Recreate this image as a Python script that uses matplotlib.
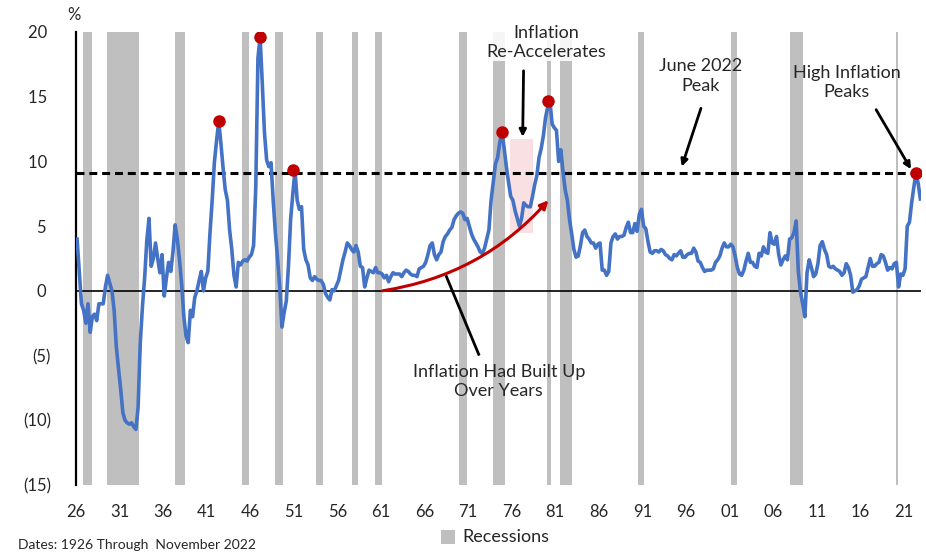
import numpy as np
import matplotlib
matplotlib.use("Agg")
import matplotlib.pyplot as plt
from matplotlib.patches import Rectangle

plt.rcParams['font.family'] = ['Lato', 'DejaVu Sans']

# ---------------- data ----------------
start_year = 1926
# CPI year-over-year %, quarterly (Q1..Q4), 1926-2022
cpi_yoy = [
    4.0, 1.5, -1.0, -1.5,     # 1926
    -2.5, -1.0, -3.2, -2.0,   # 1927
    -1.8, -2.3, -1.0, -1.0,   # 1928
    -1.0, 0.3, 1.2, 0.6,      # 1929
    0.0, -1.5, -4.3, -6.0,    # 1930
    -7.6, -9.4, -10.0, -10.2, # 1931
    -10.3, -10.2, -10.5, -10.7,  # 1932
    -9.0, -4.0, -1.2, 1.0,    # 1933
    3.9, 5.6, 1.9, 2.5,       # 1934
    3.7, 2.5, 1.4, 2.8,       # 1935
    -0.4, 1.0, 2.2, 1.5,      # 1936
    3.0, 5.1, 4.0, 2.4,       # 1937
    0.5, -2.0, -3.5, -4.0,    # 1938
    -1.5, -2.0, -0.5, 0.0,    # 1939
    0.8, 1.5, 0.0, 1.0,       # 1940
    1.5, 4.5, 7.0, 9.9,       # 1941
    11.6, 13.1, 11.4, 9.5,    # 1942
    7.8, 7.0, 4.7, 3.2,       # 1943
    1.2, 0.3, 2.2, 2.0,       # 1944
    2.3, 2.4, 2.3, 2.6,       # 1945
    2.8, 3.5, 8.0, 18.0,      # 1946
    19.6, 16.0, 12.2, 10.1,   # 1947
    9.6, 9.9, 7.0, 4.5,       # 1948
    2.5, 0.3, -2.8, -1.7,     # 1949
    -0.8, 1.9, 5.5, 7.5,      # 1950
    9.3, 7.0, 6.3, 6.5,       # 1951
    3.2, 2.4, 2.0, 1.0,       # 1952
    0.8, 1.1, 0.9, 0.8,       # 1953
    0.8, 0.5, -0.2, -0.5,     # 1954
    -0.7, 0.1, 0.0, 0.4,      # 1955
    0.8, 1.6, 2.4, 3.0,       # 1956
    3.7, 3.5, 3.2, 3.0,       # 1957
    3.5, 3.0, 1.9, 1.8,       # 1958
    0.3, 1.0, 1.6, 1.5,       # 1959
    1.4, 1.8, 1.4, 1.4,       # 1960
    1.3, 1.0, 1.2, 0.7,       # 1961
    1.1, 1.4, 1.3, 1.3,       # 1962
    1.3, 1.1, 1.4, 1.6,       # 1963
    1.5, 1.3, 1.2, 1.2,       # 1964
    1.1, 1.7, 1.8, 1.9,       # 1965
    2.2, 2.8, 3.5, 3.7,       # 1966
    2.8, 2.4, 2.8, 3.0,       # 1967
    3.8, 4.2, 4.4, 4.7,       # 1968
    4.9, 5.5, 5.8, 6.0,       # 1969
    6.1, 6.0, 5.5, 5.6,       # 1970
    5.0, 4.4, 4.0, 3.7,       # 1971
    3.4, 3.0, 2.9, 3.3,       # 1972
    4.0, 4.7, 7.0, 8.4,       # 1973
    9.8, 10.3, 11.5, 12.3,    # 1974
    11.0, 9.6, 8.4, 7.3,      # 1975
    7.0, 6.2, 5.6, 5.0,       # 1976
    5.6, 6.8, 6.6, 6.5,       # 1977
    6.5, 7.3, 8.2, 8.9,       # 1978
    10.3, 11.0, 12.0, 13.4,   # 1979
    14.2, 14.7, 12.9, 12.6,   # 1980
    12.4, 10.0, 10.9, 9.2,    # 1981
    7.8, 7.0, 5.5, 4.4,       # 1982
    3.2, 2.6, 2.7, 3.5,       # 1983
    4.5, 4.7, 4.2, 4.0,       # 1984
    3.7, 3.7, 3.3, 3.6,       # 1985
    3.7, 1.6, 1.6, 1.2,       # 1986
    1.5, 3.7, 4.2, 4.4,       # 1987
    4.0, 4.2, 4.2, 4.3,       # 1988
    4.9, 5.3, 4.5, 4.5,       # 1989
    5.2, 4.6, 5.9, 6.3,       # 1990
    5.0, 4.8, 3.8, 3.0,       # 1991
    2.9, 3.1, 3.1, 3.0,       # 1992
    3.2, 3.1, 2.8, 2.7,       # 1993
    2.5, 2.4, 2.8, 2.7,       # 1994
    2.9, 3.1, 2.6, 2.6,       # 1995
    2.8, 2.9, 2.9, 3.3,       # 1996
    3.0, 2.3, 2.2, 1.8,       # 1997
    1.5, 1.6, 1.6, 1.6,       # 1998
    1.7, 2.2, 2.4, 2.7,       # 1999
    3.3, 3.7, 3.4, 3.4,       # 2000
    3.6, 3.4, 2.7, 1.8,       # 2001
    1.3, 1.2, 1.6, 2.3,       # 2002
    2.9, 2.2, 2.2, 1.9,       # 2003
    1.8, 2.9, 2.7, 3.4,       # 2004
    3.0, 2.9, 4.5, 3.7,       # 2005
    3.6, 4.2, 2.8, 2.0,       # 2006
    2.4, 2.7, 2.4, 4.0,       # 2007
    4.1, 4.5, 5.4, 1.5,       # 2008
    -0.1, -1.0, -2.0, 1.4,    # 2009
    2.4, 1.8, 1.1, 1.3,       # 2010
    2.1, 3.5, 3.8, 3.2,       # 2011
    2.8, 1.9, 1.8, 1.9,       # 2012
    1.7, 1.6, 1.5, 1.2,       # 2013
    1.4, 2.1, 1.8, 1.2,       # 2014
    -0.1, 0.0, 0.1, 0.4,      # 2015
    0.9, 1.0, 1.1, 1.8,       # 2016
    2.5, 1.9, 1.9, 2.1,       # 2017
    2.2, 2.8, 2.7, 2.2,       # 2018
    1.6, 1.8, 1.7, 2.1,       # 2019
    2.2, 0.3, 1.3, 1.2,       # 2020
    1.7, 5.0, 5.3, 6.8,       # 2021
    8.0, 9.1, 8.3, 7.1,       # 2022
]

# High inflation peaks (red dots)
peak_years = [1942.35, 1947.12, 1950.95, 1974.85, 1980.15, 2022.4]
peak_values = [13.1, 19.6, 9.3, 12.3, 14.7, 9.1]

june_2022_peak = 9.1

# NBER recessions (start, end) in decimal years
recessions = [
    (1926.75, 1927.87), (1929.58, 1933.20), (1937.37, 1938.45),
    (1945.05, 1945.85), (1948.80, 1949.80), (1953.50, 1954.37),
    (1957.62, 1958.30), (1960.30, 1961.10), (1969.92, 1970.87),
    (1973.87, 1975.20), (1980.00, 1980.50), (1981.50, 1982.87),
    (1990.50, 1991.20), (2001.20, 2001.87), (2007.92, 2009.45),
    (2020.10, 2020.30),
]

x_tick_years = list(range(1926, 2022, 5))
x_tick_labels = [f"{y % 100:02d}" for y in x_tick_years]
y_ticks = [-15, -10, -5, 0, 5, 10, 15, 20]
y_tick_labels = ["(15)", "(10)", "(5)", "0 ", "5 ", "10 ", "15 ", "20 "]

# ---------------- figure ----------------
W, H = 926, 553
fig = plt.figure(figsize=(W / 100, H / 100), dpi=100)
ax = fig.add_axes([76 / W, 1 - 485 / H, (921 - 76) / W, (485 - 32) / H])

x0, x1 = 1926.0, 2022.95
ax.set_xlim(x0, x1)
ax.set_ylim(-15, 20)

grey = "#BFBFBF"
for s, e in recessions:
    ax.axvspan(s, e, color=grey, lw=0, zorder=1)

# pink shaded "re-acceleration" region
ax.add_patch(Rectangle((1975.75, 4.5), 2.65, 7.2, facecolor="#F7D9DC",
                       edgecolor="none", alpha=0.8, zorder=1.5))

dates = start_year + 0.125 + 0.25 * np.arange(len(cpi_yoy))
ax.axhline(0, color="black", lw=1.2, zorder=2)
ax.axhline(june_2022_peak, color="black", lw=2.2, ls=(0, (2.6, 1.6)), zorder=2.5)
ax.plot(dates, cpi_yoy, color="#4472C4", lw=2.6, zorder=3, solid_joinstyle="round")
ax.plot(peak_years, peak_values, "o", color="#C00000", ms=8, zorder=4)

# spines
for sp in ["top", "right", "bottom"]:
    ax.spines[sp].set_visible(False)
ax.spines["left"].set_linewidth(1.6)
ax.spines["left"].set_color("black")

ax.set_xticks(x_tick_years)
ax.set_xticklabels(x_tick_labels, fontsize=12, color="#262626")
ax.set_yticks(y_ticks)
ax.set_yticklabels(y_tick_labels, fontsize=12, color="#262626")
ax.tick_params(axis="x", length=0, pad=14)
ax.tick_params(axis="y", length=0, pad=18)

ax.text(1925.8, 21.3, "%", fontsize=12, color="#262626", ha="center", va="center",
        clip_on=False)

ann_fs = 13
tc = "#262626"
# Inflation Re-Accelerates
ax.text(1979.9, 19.2, "Inflation\nRe-Accelerates", fontsize=ann_fs, color=tc,
        ha="center", va="center", linespacing=1.25, zorder=5, clip_on=False,
        bbox=dict(facecolor="white", edgecolor="none", alpha=0.85, pad=1))
ax.annotate("", xy=(1977.25, 11.9), xytext=(1977.35, 17.0),
            arrowprops=dict(arrowstyle="-|>", color="black", lw=2,
                            mutation_scale=10, shrinkA=0, shrinkB=0), zorder=5)

# June 2022 Peak
ax.text(1997.7, 16.6, "June 2022\nPeak", fontsize=ann_fs, color=tc,
        ha="center", va="center", linespacing=1.25, zorder=5)
ax.annotate("", xy=(1995.5, 9.6), xytext=(1997.7, 14.1),
            arrowprops=dict(arrowstyle="-|>", color="black", lw=2,
                            mutation_scale=10, shrinkA=0, shrinkB=0), zorder=5)

# High Inflation Peaks
ax.text(2014.45, 16.1, "High Inflation\nPeaks", fontsize=ann_fs, color=tc,
        ha="center", va="center", linespacing=1.25, zorder=5)
ax.annotate("", xy=(2021.8, 9.4), xytext=(2017.8, 14.0),
            arrowprops=dict(arrowstyle="-|>", color="black", lw=2,
                            mutation_scale=10, shrinkA=0, shrinkB=0), zorder=5)

# Inflation Had Built Up Over Years
ax.text(1974.5, -7.0, "Inflation Had Built Up\nOver Years", fontsize=ann_fs,
        color=tc, ha="center", va="center", linespacing=1.25, zorder=5)
ax.plot([1972.2, 1968.5], [-4.9, 1.1], color="black", lw=2, zorder=5)

# red curved arrow
ax.annotate("", xy=(1980.2, 7.0), xytext=(1961.15, 0.0),
            arrowprops=dict(arrowstyle="-|>", color="#C00000", lw=2.2,
                            mutation_scale=12, shrinkA=0, shrinkB=0,
                            connectionstyle="arc3,rad=0.18"), zorder=4.5)

# legend
fig.patches.append(Rectangle((441 / W, 1 - 544 / H), 14 / W, 14 / H,
                             transform=fig.transFigure, facecolor=grey,
                             edgecolor="none"))
fig.text(462 / W, 1 - 537 / H, "Recessions", fontsize=13, color=tc,
         ha="left", va="center")
fig.text(18 / W, 1 - 545 / H, "Dates: 1926 Through  November 2022", fontsize=10,
         color=tc, ha="left", va="center")

fig.savefig("out.png", dpi=100, facecolor="white")
